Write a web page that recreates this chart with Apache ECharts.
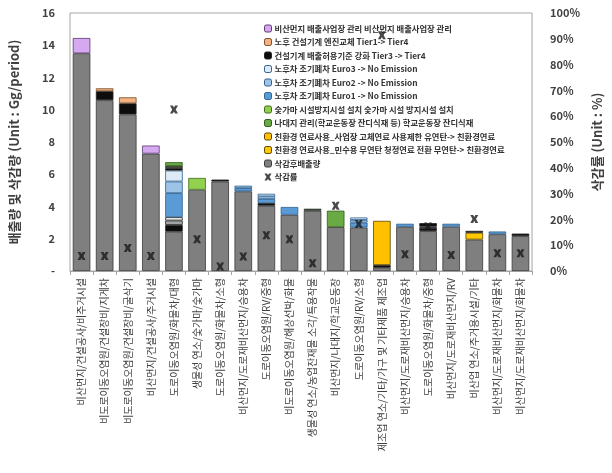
<!DOCTYPE html>
<html><head><meta charset="utf-8">
<script src="https://cdn.jsdelivr.net/npm/echarts@6/dist/echarts.min.js"></script>
<style>html,body{margin:0;padding:0;background:#fff}#c{width:612px;height:473px}</style>
</head><body><div id="c"></div>
<script>
const categories = [
  '비산먼지/건설공사/비주거시설','비도로이동오염원/건설장비/지게차','비도로이동오염원/건설장비/굴삭기',
  '비산먼지/건설공사/주거시설','도로이동오염원/화물차/대형','생물성 연소/숯가마/숯가마',
  '도로이동오염원/화물차/소형','비산먼지/도로재비산먼지/승용차','도로이동오염원/RV/중형',
  '비도로이동오염원/해상선박/화물','생물성 연소/농업잔재물 소각/특용작물','비산먼지/나대지/학교운동장',
  '도로이동오염원/RV/소형','제조업 연소/기타/가구 및 기타제품 제조업','비산먼지/도로재비산먼지/승용차',
  '도로이동오염원/화물차/중형','비산먼지/도로재비산먼지/RV','비산업 연소/주거용시설/기타',
  '비산먼지/도로재비산먼지/화물차','비산먼지/도로재비산먼지/화물차'
];
const leftTicks = [0, 2, 4, 6, 8, 10, 12, 14, 16];
const rightTicks = [0, 10, 20, 30, 40, 50, 60, 70, 80, 90, 100];

const afterReduction   = [13.5,10.59,9.71,7.28,2.44,5.04,5.55,4.94,4.05,3.49,3.74,2.72,2.70,0.20,2.74,2.47,2.75,1.95,2.28,2.16];
const constructionStd  = [0,0.56,0.69,0,0.42,0,0.12,0,0.16,0,0,0,0,0.17,0,0.20,0,0,0,0.16];
const extraGrey        = [0,0,0,0,0.27,0,0,0,0,0,0,0,0,0,0,0.08,0,0,0,0];
const extraWhite       = [0,0,0,0,0.21,0,0,0,0,0,0,0,0,0,0,0,0,0,0,0];
const euro1            = [0,0,0,0,1.49,0,0,0.20,0.25,0.48,0,0,0.30,0,0.19,0,0.18,0,0.17,0];
const euro2            = [0,0,0,0,0.72,0,0,0.15,0.17,0,0,0,0.17,0,0,0,0,0,0,0];
const euro3            = [0,0,0,0,0.68,0,0,0,0.16,0,0,0,0.15,0,0,0,0,0,0,0];
const fuelIndustrial   = [0,0,0,0,0,0,0,0,0,0,0,0,0,2.74,0,0,0,0,0,0];
const fuelResidential  = [0,0,0,0,0,0,0,0,0,0,0,0,0,0,0,0,0,0.42,0,0];
const extraBlack       = [0,0,0,0,0.15,0,0,0,0,0,0,0,0,0,0,0.22,0,0.12,0,0];
const extraDarkGreen   = [0,0,0,0,0.14,0,0,0,0,0,0.12,0,0,0,0,0,0,0,0,0];
const bareLand         = [0,0,0,0,0.23,0,0,0,0,0,0,1.02,0,0,0,0,0,0,0,0];
const charcoalKiln     = [0,0,0,0,0,0.73,0,0,0,0,0,0,0,0,0,0,0,0,0,0];
const engineReplace    = [0,0.18,0.37,0,0,0,0,0,0,0,0,0,0,0,0,0,0,0,0,0];
const dustMgmt         = [0.95,0,0,0.5,0,0,0,0,0,0,0,0,0,0,0,0,0,0,0,0];
const reductionRate    = [5.8,5.8,8.9,5.8,62.6,12.3,1.7,5.6,13.9,12.3,3.0,25.3,18.2,91.4,6.5,17.2,6.2,20.2,6.9,6.9];

const N = {
  dust:'비산먼지 배출사업장 관리 비산먼지 배출사업장 관리',
  engine:'노후 건설기계 엔진교체 Tier1-> Tier4',
  std:'건설기계 배출허용기준 강화 Tier3 -> Tier4',
  e3:'노후차 조기폐차 Euro3 -> No Emission',
  e2:'노후차 조기폐차 Euro2 -> No Emission',
  e1:'노후차 조기폐차 Euro1 -> No Emission',
  kiln:'숯가마 시설방지시설 설치 숯가마 시설 방지시설 설치',
  bare:'나대지 관리(학교운동장 잔디식재 등) 학교운동장 잔디식재',
  fi:'친환경 연료사용_사업장 고체연료 사용제한 유연탄-> 친환경연료',
  fr:'친환경 연료사용_민수용 무연탄 청정연료 전환 무연탄-> 친환경연료',
  after:'삭감후배출량',
  rate:'삭감률'
};
const FONT = '"Noto Sans CJK KR", "Noto Sans", sans-serif';
const clean = a => a.map(v => v === 0 ? '-' : v);
function bar(name, data, color, border) {
  return { name, type:'bar', stack:'s', barWidth:'76%', data: clean(data),
    itemStyle:{ color, borderColor: border || '#262626', borderWidth:0.8 } };
}
const xPath = 'path://M0,0 L3.6,0 L5,2.6 L6.4,0 L10,0 L7.2,5 L10,10 L6.4,10 L5,7.4 L3.6,10 L0,10 L2.8,5 Z';

const series = [
  bar(N.after, afterReduction, '#7f7f7f', '#3a3a3a'),
  bar(N.std, constructionStd, '#0d0d0d'),
  bar('extraGrey', extraGrey, '#a6a6a6'),
  bar('extraWhite', extraWhite, '#e9e9e9'),
  bar(N.e1, euro1, '#5b9bd5', '#2f5f8f'),
  bar(N.e2, euro2, '#9dc3e6', '#2f5f8f'),
  bar(N.e3, euro3, '#deebf7', '#2f5f8f'),
  bar(N.fi, fuelIndustrial, '#ffc000', '#5a4500'),
  bar(N.fr, fuelResidential, '#ffc800', '#5a4500'),
  bar('extraBlack', extraBlack, '#0d0d0d'),
  bar('extraDarkGreen', extraDarkGreen, '#3b5a24'),
  bar(N.bare, bareLand, '#6aaa45', '#2e5a1a'),
  bar(N.kiln, charcoalKiln, '#92d050', '#3e6a1a'),
  bar(N.engine, engineReplace, '#f4b183', '#7a4a20'),
  bar(N.dust, dustMgmt, '#d6a8f0', '#5a3a70'),
  { name:N.rate, type:'scatter', yAxisIndex:1, data:reductionRate, symbol:xPath, symbolSize:[8,8],
    itemStyle:{ color:'#1a1a1a' }, z:10 }
];

const chart = echarts.init(document.getElementById('c'));
chart.setOption({
  animation:false,
  textStyle:{ fontFamily: FONT },
  grid:{ left:63, right:79, top:13, bottom:202, show:true, borderColor:'#a6a6a6', borderWidth:1 },
  legend:{
    orient:'vertical', left:259, top:18, itemWidth:7, itemHeight:7, itemGap:2.5,
    data:[N.dust,N.engine,N.std,N.e3,N.e2,N.e1,N.kiln,N.bare,N.fi,N.fr,N.after,N.rate],
    textStyle:{ fontFamily:FONT, fontSize:8.3, fontWeight:'bold', color:'#333', lineHeight:11, padding:[0,0,0,-2] },
    itemStyle:{ borderWidth:1 }
  },
  xAxis:{
    type:'category', data:categories,
    axisLine:{ show:true, lineStyle:{ color:'#a6a6a6' } },
    axisTick:{ show:true, length:4, lineStyle:{ color:'#a6a6a6' } },
    axisLabel:{ interval:0, rotate:90, margin:7, fontSize:10, color:'#404040', fontFamily:FONT }
  },
  yAxis:[
    { type:'value', min:leftTicks[0], max:leftTicks[leftTicks.length-1], interval:2,
      name:'배출량 및 삭감량 (Unit : Gg/period)', nameLocation:'middle', nameRotate:90, nameGap:49,
      nameTextStyle:{ fontSize:13, fontWeight:'bold', color:'#404040', fontFamily:FONT },
      axisLine:{ show:false }, axisTick:{ show:false }, splitLine:{ show:false },
      axisLabel:{ margin:15, fontSize:11, fontWeight:'bold', color:'#404040', fontFamily:FONT,
        formatter: v => v === 0 ? '-' : String(v) } },
    { type:'value', min:rightTicks[0], max:rightTicks[rightTicks.length-1], interval:10,
      name:'삭감률 (Unit : %)', nameLocation:'middle', nameRotate:90, nameGap:53,
      nameTextStyle:{ fontSize:13, fontWeight:'bold', color:'#404040', fontFamily:FONT, padding:[0,0,14,0] },
      axisLine:{ show:false }, axisTick:{ show:false }, splitLine:{ show:false },
      axisLabel:{ margin:18, fontSize:11, fontWeight:'bold', color:'#404040', fontFamily:FONT,
        formatter: v => v + '%' } }
  ],
  series
});
</script>
</body></html>
